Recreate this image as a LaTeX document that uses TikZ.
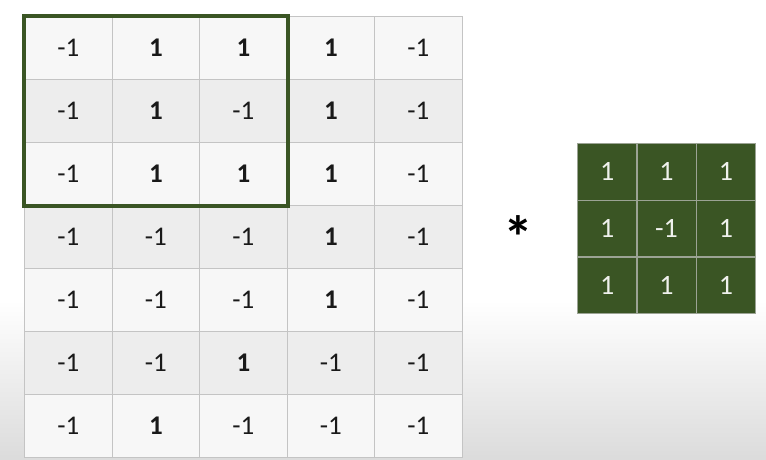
\documentclass[tikz,border=0pt]{standalone}
\usepackage{fontspec}
\setmainfont{Carlito}
\definecolor{kgreen}{HTML}{3A5524}
\definecolor{gline}{HTML}{C4C4C4}
\tikzset{
  lcell/.style={draw=gline, line width=1.2pt, minimum width=87.5pt, minimum height=63pt, inner sep=0pt, anchor=north west, font=\fontsize{27}{29}\selectfont, text=black!90},
  rcell/.style={draw=gline!70!kgreen, line width=1.2pt, fill=kgreen, minimum width=59.3pt, minimum height=56.7pt, inner sep=0pt, anchor=north west, font=\fontsize{28}{30}\selectfont, text=white!92!kgreen},
  rowa/.style={fill=black!3},
  rowb/.style={fill=black!7},
}
\begin{document}
\begin{tikzpicture}[x=1pt,y=-1pt]
\useasboundingbox (0,0) rectangle (766,460);
\fill[white] (0,0) rectangle (766,460);
\shade[top color=white, bottom color=black!14] (0,300) rectangle (766,460);
% left grid
\foreach \row [count=\r] in {
  {-1,\textbf{1},\textbf{1},\textbf{1},-1},
  {-1,\textbf{1},-1,\textbf{1},-1},
  {-1,\textbf{1},\textbf{1},\textbf{1},-1},
  {-1,-1,-1,\textbf{1},-1},
  {-1,-1,-1,\textbf{1},-1},
  {-1,-1,\textbf{1},-1,-1},
  {-1,\textbf{1},-1,-1,-1}} {
  \foreach \v [count=\c] in \row {
    \pgfmathsetmacro{\px}{24+(\c-1)*87.5}
    \pgfmathsetmacro{\py}{16+(\r-1)*63}
    \pgfmathtruncatemacro{\parity}{mod(\r,2)}
    \ifnum\parity=1
      \node[lcell, rowa] (L-\r-\c) at (\px,\py) {\v};
    \else
      \node[lcell, rowb] (L-\r-\c) at (\px,\py) {\v};
    \fi
  }
}
% highlight window
\draw[kgreen, line width=4pt] (L-1-1.north west) rectangle (L-3-3.south east);
% asterisk
\node[font=\fontsize{60}{60}\selectfont\bfseries] (star) at (518,237) {*};
% kernel
\foreach \row [count=\r] in {{1,1,1},{1,-1,1},{1,1,1}} {
  \foreach \v [count=\c] in \row {
    \pgfmathsetmacro{\px}{577+(\c-1)*59.3}
    \pgfmathsetmacro{\py}{143+(\r-1)*56.7}
    \node[rcell] (K-\r-\c) at (\px,\py) {\v};
  }
}
\end{tikzpicture}
\end{document}
